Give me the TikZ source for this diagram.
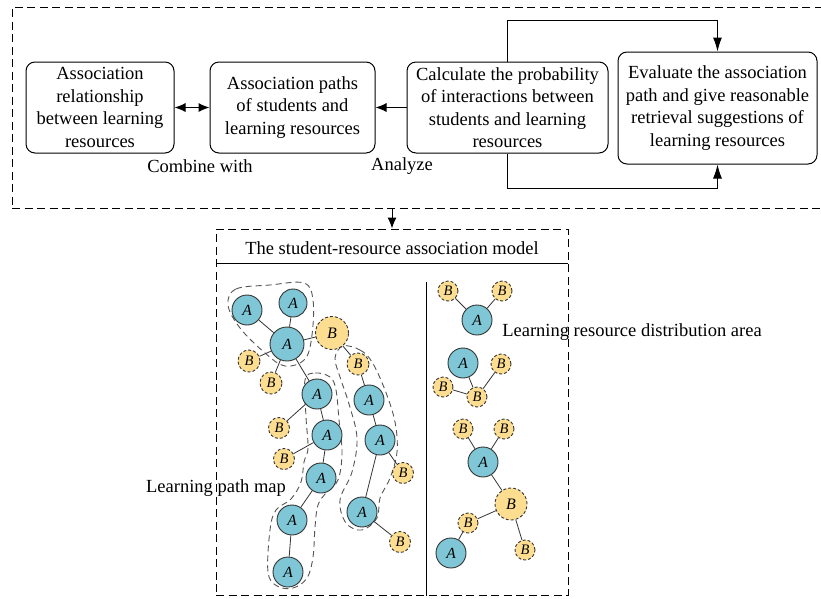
\documentclass[tikz,border=0pt]{standalone}
\usepackage{fontspec}
\setmainfont{Liberation Serif}
\usepackage{tikz}
\usetikzlibrary{arrows.meta,positioning}

\definecolor{cellA}{RGB}{127,199,214}
\definecolor{cellB}{RGB}{253,222,145}
\definecolor{hullgray}{RGB}{85,85,85}

\tikzset{
  stage/.style={draw, line width=1pt, rounded corners=9pt, align=center,
    font=\fontsize{18.5}{22.5}\selectfont, inner sep=2pt},
  frame/.style={draw, line width=1pt, dash pattern=on 8pt off 4.5pt},
  caption/.style={font=\fontsize{18.5}{22.5}\selectfont, inner sep=0pt},
  nA/.style={circle, draw=black!80, line width=0.9pt, fill=cellA,
    minimum size=30pt, inner sep=0pt, font=\fontsize{15.5}{15.5}\selectfont\itshape},
  nAbig/.style={nA, minimum size=34pt},
  nB/.style={circle, draw=black!80, line width=0.9pt, dash pattern=on 3pt off 2pt,
    fill=cellB, minimum size=21pt, inner sep=0pt, font=\fontsize{14.5}{14.5}\selectfont\itshape},
  nBbig/.style={nB, minimum size=33pt, font=\fontsize{16}{16}\selectfont\itshape},
  hull/.style={draw=hullgray, line width=0.9pt, dash pattern=on 6pt off 4pt},
  link/.style={draw=black!80, line width=0.8pt},
  flow/.style={line width=1pt, -{Latex[length=11pt,width=9pt]}},
  loopflow/.style={line width=1pt, -{Latex[length=14pt,width=9pt]}},
}

\begin{document}
\begin{tikzpicture}[x=1pt,y=-1pt]
\useasboundingbox (0,0) rectangle (821,598);

% upper part
\node[frame, minimum width=811pt, minimum height=201pt] (upper) at (417.5,107.5) {};

\node[stage, minimum width=148pt, minimum height=91pt] (relation) at (100,107.5)
  {Association\\ relationship\\ between learning\\ resources};
\node[stage, minimum width=165pt, minimum height=91pt] (paths) at (292.5,107.5)
  {Association paths\\ of students and\\ learning resources};
\node[stage, minimum width=201pt, minimum height=91pt] (calc) at (507.5,107.5)
  {Calculate the probability\\ of interactions between\\ students and learning\\ resources};
\node[stage, minimum width=199pt, minimum height=112pt] (eval) at (717.5,108)
  {Evaluate the association\\ path and give reasonable\\ retrieval suggestions of\\ learning resources};

\node[caption] (combine) at (200,166) {Combine with};
\node[caption] (analyze) at (402,166) {Analyze};

\draw[flow, {Latex[length=11pt,width=9pt]}-{Latex[length=11pt,width=9pt]}] (relation) -- (paths);
\draw[flow] (calc) -- (paths);

\coordinate (loopT) at (507.5,20);
\coordinate (loopB) at (507.5,188);
\draw[loopflow] (calc.north) -- (loopT) -| (eval.north);
\draw[loopflow] (calc.south) -- (loopB) -| (eval.south);

% lower part
\node[frame, minimum width=352pt, minimum height=366pt] (lower) at (392,412) {};
\draw[flow] (upper.south -| lower.north) -- (lower.north);

\node[caption] (model) at (392,248) {The student-resource association model};
\coordinate (titleL) at (216,263);
\coordinate (titleR) at (568,263);
\draw[line width=1pt] (titleL) -- (titleR);
\coordinate (divT) at (426,282);
\draw[line width=1pt] (divT) -- (divT |- lower.south);

% dashed path groups
\draw[hull] plot[smooth cycle, tension=0.6] coordinates {(228,305) (236,289) (270,285) (304,283)
  (313,300) (312,335) (305,359) (285,366) (265,353) (240,328)};
\draw[hull] plot[smooth cycle, tension=0.6] coordinates {(343,346) (360,350) (372,362) (385,390)
  (395,422) (397,452) (390,478) (380,498) (377,518) (362,530) (346,523) (340,500) (352,472)
  (357,438) (349,404) (340,377) (335,358)};
\draw[hull] plot[smooth cycle, tension=0.6] coordinates {(305,380) (315,373) (330,377) (336,390)
  (339,420) (342,453) (338,480) (326,493) (318,505) (315,527) (313,557) (307,578) (293,588)
  (277,586) (268,572) (270,530) (276,510) (291,499) (301,482) (304,462) (308,448) (306,417)};

% learning path map
\node[nA] (a1) at (247,310) {A};
\node[nA, minimum size=28pt] (a2) at (293,303) {A};
\node[nAbig] (a3) at (287,344) {A};
\node[nBbig] (b1) at (332,333) {B};
\node[nB, minimum size=22pt] (b2) at (249,361) {B};
\node[nB, minimum size=22pt] (b3) at (271,383) {B};
\node[nB, minimum size=22pt] (b4) at (358,364) {B};
\node[nA] (a4) at (317,394) {A};
\node[nA] (a5) at (369,400) {A};
\node[nB] (b5) at (279,428) {B};
\node[nA] (a6) at (327,435) {A};
\node[nA] (a7) at (380,440) {A};
\node[nB] (b6) at (284,459) {B};
\node[nA] (a8) at (321,478) {A};
\node[nB] (b7) at (403,473) {B};
\node[nA] (a9) at (292,520) {A};
\node[nA] (a10) at (362,512) {A};
\node[nB] (b8) at (400,542) {B};
\node[nA] (a11) at (288,572) {A};

\foreach \p/\q in {a1/a3, a2/a3, a3/b2, a3/b3, a3/b1, a3/a4, b1/b4, b4/a5, a5/a7, a7/b7,
  a7/a10, a10/b8, a4/b5, a4/a6, a6/b6, a6/a8, a8/a9, a9/a11}
  \draw[link] (\p) -- (\q);

\node[caption] (pathmap) at (216,488) {Learning path map};

% learning resource distribution area
\node[nB, minimum size=20pt] (r1) at (448,291) {B};
\node[nB, minimum size=20pt] (r2) at (502,291) {B};
\node[nA] (r3) at (477,320) {A};
\node[nA] (r4) at (463,363) {A};
\node[nB, minimum size=20pt] (r5) at (501,364) {B};
\node[nB, minimum size=20pt] (r6) at (443,387) {B};
\node[nB, minimum size=20pt] (r7) at (477,397) {B};
\node[nB, minimum size=20pt] (r8) at (463,429) {B};
\node[nB, minimum size=20pt] (r9) at (504,429) {B};
\node[nA] (r10) at (483,462) {A};
\node[nBbig, minimum size=32pt] (r11) at (511,504) {B};
\node[nB, minimum size=20pt] (r12) at (468,523) {B};
\node[nA] (r13) at (451,553) {A};
\node[nB, minimum size=20pt] (r14) at (525,550) {B};

\foreach \p/\q in {r1/r3, r2/r3, r4/r7, r6/r7, r5/r7, r8/r10, r9/r10, r10/r11,
  r11/r12, r12/r13, r11/r14}
  \draw[link] (\p) -- (\q);

\node[caption] (distarea) at (632,332) {Learning resource distribution area};
\end{tikzpicture}
\end{document}
